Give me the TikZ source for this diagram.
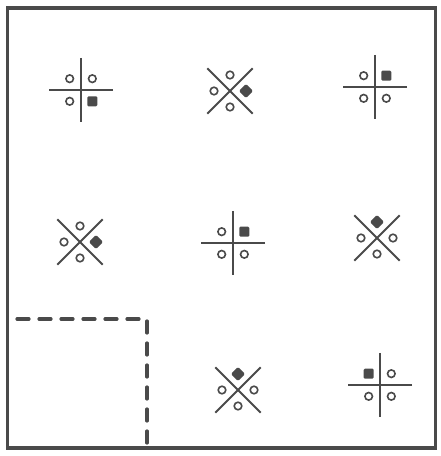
\documentclass[tikz,border=0pt]{standalone}
\usepackage{xcolor}
\usepackage{tikz}
\definecolor{ink}{HTML}{4A4A4A}

\begin{document}
\begin{tikzpicture}[
      x=1pt, y=1pt,
      frame/.style={line width=3.4pt, draw=ink},
      bar/.style={line width=2pt, ink},
      ring/.style={line width=1.6pt, ink},
      blob/.style={fill=ink, rounded corners=1.2pt},
      dash_box/.style={line width=3.2pt, ink, line cap=round, dash pattern=on 12pt off 10pt}
    ]
    \useasboundingbox (0,0) rectangle (441,456);

    % Cornice
    \draw[frame] (7.5,8) rectangle (435.5,448);

    % Riquadro tratteggiato
    \coordinate (Q1) at (17,137);
    \coordinate (Q2) at (147,137);
    \coordinate (Q3) at (147,9);
    \draw[dash_box] (Q1) -- (Q2) -- (Q3);

    % Simboli: centro x / centro y / rotazione croce / posizione pieno
    \foreach \cx/\cy/\rot/\fil [count=\i] in
        {81/366/0/-45, 230/365/45/0, 375/369/0/45,
         80/214/45/0, 233/213/0/45, 377/218/45/90,
         238/66/45/90, 380/71/0/135}
    {
      \begin{scope}[shift={(\cx,\cy)}]
        \coordinate (S\i) at (0,0);
        \draw[bar] (\rot:32) -- (\rot+180:32);
        \draw[bar] (\rot+90:32) -- (\rot+270:32);
        \foreach \k in {1,2,3}
          \draw[ring] (\fil+\k*90:16) circle (3.8);
        \fill[blob, shift={(\fil:16)}, rotate=\rot] (-5,-5) rectangle (5,5);
      \end{scope}
    }
  \end{tikzpicture}
\end{document}
